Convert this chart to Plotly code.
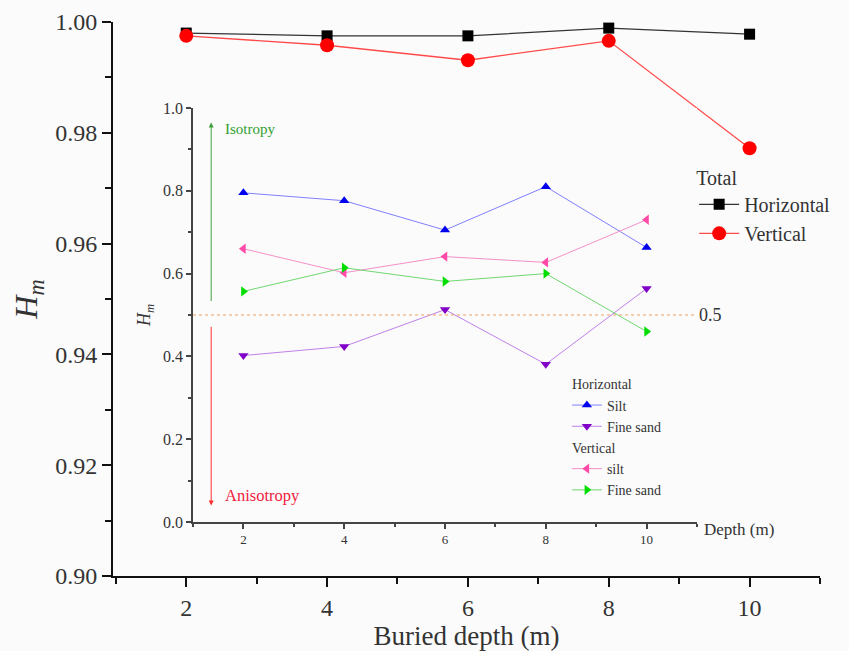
import plotly.graph_objects as go

depth = [2, 4, 6, 8, 10]

# Main chart (Total)
total_horizontal = [0.9980, 0.9975, 0.9975, 0.9989, 0.9978]
total_vertical = [0.9975, 0.9958, 0.9931, 0.9966, 0.9772]

# Inset chart
h_silt = [0.795, 0.776, 0.705, 0.810, 0.663]
h_fine_sand = [0.402, 0.424, 0.513, 0.381, 0.564]
v_silt = [0.660, 0.602, 0.641, 0.627, 0.730]
v_fine_sand = [0.557, 0.614, 0.581, 0.600, 0.460]

FONT = "Liberation Serif, Times New Roman, serif"
TXT = "#333333"

# inset x2 domain in paper coords (for labels beyond the axis end)
X2_DOM = [0.1132, 0.826]
Y2_DOM = [0.0975, 0.8448]


def x2_paper(v):
    return X2_DOM[0] + (v - 1) / 10 * (X2_DOM[1] - X2_DOM[0])


def y2_paper(v):
    return Y2_DOM[0] + v * (Y2_DOM[1] - Y2_DOM[0])


fig = go.Figure()

fig.add_trace(go.Scatter(x=depth, y=total_horizontal, mode="lines+markers", name="Horizontal",
                         line=dict(color="#333333", width=1.3),
                         marker=dict(symbol="square", size=11, color="#000000"),
                         legend="legend", xaxis="x", yaxis="y"))
fig.add_trace(go.Scatter(x=depth, y=total_vertical, mode="lines+markers", name="Vertical",
                         line=dict(color="#ff4a4a", width=1.3),
                         marker=dict(symbol="circle", size=14, color="#ff0000"),
                         legend="legend", xaxis="x", yaxis="y"))

fig.add_trace(go.Scatter(x=depth, y=h_silt, mode="lines+markers", name="Silt",
                         line=dict(color="#8080ff", width=1),
                         marker=dict(symbol="triangle-up", size=9, color="#0000ee"),
                         legend="legend2", legendgroup="h", legendgrouptitle=dict(text="Horizontal"),
                         xaxis="x2", yaxis="y2"))
fig.add_trace(go.Scatter(x=depth, y=h_fine_sand, mode="lines+markers", name="Fine sand",
                         line=dict(color="#c080e8", width=1),
                         marker=dict(symbol="triangle-down", size=9, color="#8000c8"),
                         legend="legend2", legendgroup="h",
                         xaxis="x2", yaxis="y2"))
fig.add_trace(go.Scatter(x=depth, y=v_silt, mode="lines+markers", name="silt",
                         line=dict(color="#f590c8", width=1),
                         marker=dict(symbol="triangle-left", size=9, color="#ff4aa8"),
                         legend="legend2", legendgroup="v", legendgrouptitle=dict(text="Vertical"),
                         xaxis="x2", yaxis="y2"))
fig.add_trace(go.Scatter(x=depth, y=v_fine_sand, mode="lines+markers", name="Fine sand",
                         line=dict(color="#70d870", width=1),
                         marker=dict(symbol="triangle-right", size=9, color="#00dd00"),
                         legend="legend2", legendgroup="v",
                         xaxis="x2", yaxis="y2"))

fig.update_layout(
    width=849, height=651,
    margin=dict(l=113, r=29, t=22, b=75),
    paper_bgcolor="#fbfbfb", plot_bgcolor="#fbfbfb",
    font=dict(family=FONT, color=TXT),
    xaxis=dict(domain=[0, 1], range=[0.96, 11.0], tickmode="linear", tick0=0, dtick=2,
               automargin=False,
               showline=True, linecolor="#111111", linewidth=2, ticks="outside", ticklen=9,
               tickwidth=2, tickcolor="#111111", showgrid=False, zeroline=False,
               tickfont=dict(size=24, color=TXT),
               minor=dict(tickmode="linear", tick0=1, dtick=2, ticks="outside", ticklen=6,
                          tickwidth=2, tickcolor="#111111"),
               title=dict(text="Buried depth (m)", font=dict(size=27, color=TXT), standoff=8)),
    yaxis=dict(domain=[0, 1], range=[0.90, 1.00], tickmode="linear", tick0=0.9, dtick=0.02,
               automargin=False,
               tickformat=".2f", showline=True, linecolor="#111111", linewidth=2,
               ticks="outside", ticklen=9, tickwidth=2, tickcolor="#111111",
               showgrid=False, zeroline=False, tickfont=dict(size=24, color=TXT),
               minor=dict(tickmode="linear", tick0=0.91, dtick=0.02, ticks="outside", ticklen=6,
                          tickwidth=2, tickcolor="#111111"),
               title=dict(text="<i>H<sub>m</sub></i>", font=dict(size=32, color=TXT), standoff=8)),
    xaxis2=dict(domain=X2_DOM, anchor="y2", range=[1, 11], tickmode="linear", tick0=0,
                dtick=2, automargin=False,
                showline=True, linecolor="#444444", linewidth=1.5, ticks="outside",
                ticklen=5, tickwidth=1.5, tickcolor="#444444", showgrid=False, zeroline=False,
                tickfont=dict(size=13, color=TXT),
                minor=dict(tickmode="linear", tick0=1, dtick=2, ticks="outside", ticklen=3,
                           tickwidth=1.5, tickcolor="#444444")),
    yaxis2=dict(domain=Y2_DOM, anchor="x2", range=[0, 1.0], tickmode="linear", tick0=0,
                dtick=0.2, tickformat=".1f", automargin=False,
                showline=True, linecolor="#444444", linewidth=1.5,
                ticks="outside", ticklen=5, tickwidth=1.5, tickcolor="#444444", showgrid=False,
                zeroline=False, tickfont=dict(size=16, color=TXT),
                minor=dict(tickmode="linear", tick0=0.1, dtick=0.2, ticks="outside", ticklen=3,
                           tickwidth=1.5, tickcolor="#444444"),
                title=dict(text="<i>H<sub>m</sub></i>", font=dict(size=18, color=TXT), standoff=8)),
    legend=dict(x=0.822, y=0.753, xanchor="left", yanchor="top", bgcolor="rgba(0,0,0,0)",
                title=dict(text="Total", font=dict(size=20, color=TXT)),
                font=dict(size=20, color=TXT), tracegroupgap=0, itemwidth=40),
    legend2=dict(x=0.642, y=0.375, xanchor="left", yanchor="top", bgcolor="rgba(0,0,0,0)",
                 font=dict(size=14, color=TXT), grouptitlefont=dict(size=14, color=TXT),
                 tracegroupgap=0, itemwidth=30),
    showlegend=True,
)

# 0.5 reference line in inset
fig.add_shape(type="line", xref="x2", yref="y2", x0=1, x1=11, y0=0.5, y1=0.5,
              line=dict(color="#f0a060", width=1, dash="dot"))

fig.add_annotation(xref="paper", yref="paper", x=x2_paper(11.0), y=y2_paper(0.5), text="0.5",
                   showarrow=False, xanchor="left", yanchor="middle",
                   font=dict(size=18, color=TXT))

# Isotropy / Anisotropy arrows
fig.add_annotation(xref="x2", yref="y2", axref="x2", ayref="y2", x=1.36, y=0.965, ax=1.36, ay=0.53,
                   text="", showarrow=True, arrowhead=2, arrowsize=1, arrowwidth=1,
                   arrowcolor="#40a040")
fig.add_annotation(xref="x2", yref="y2", axref="x2", ayref="y2", x=1.36, y=0.04, ax=1.36, ay=0.475,
                   text="", showarrow=True, arrowhead=2, arrowsize=1, arrowwidth=1,
                   arrowcolor="#ff3030")
fig.add_annotation(xref="x2", yref="y2", x=1.6, y=0.95, text="Isotropy", showarrow=False,
                   xanchor="left", yanchor="middle", font=dict(size=15, color="#30a030"))
fig.add_annotation(xref="x2", yref="y2", x=1.6, y=0.063, text="Anisotropy", showarrow=False,
                   xanchor="left", yanchor="middle", font=dict(size=16.5, color="#f02040"))

fig.add_annotation(xref="paper", yref="paper", x=x2_paper(11.1), y=y2_paper(0.0), text="Depth (m)",
                   showarrow=False, xanchor="left", yanchor="top", yshift=4,
                   font=dict(size=17, color=TXT))

fig.write_html("out.html", config={"displayModeBar": False},
               post_script="document.body.style.margin='0';")
